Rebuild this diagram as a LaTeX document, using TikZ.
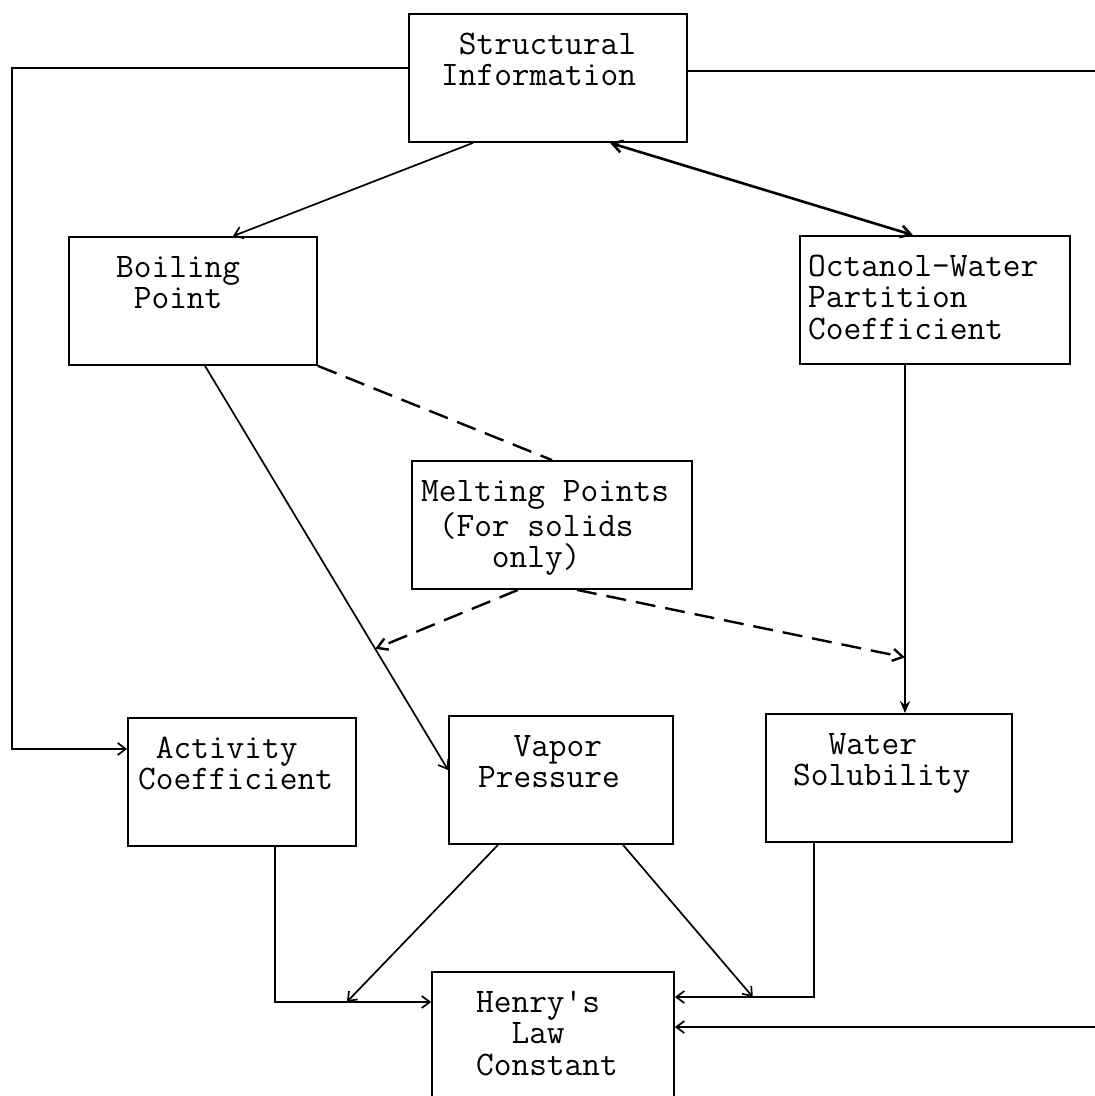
\documentclass[tikz,border=0pt]{standalone}
\usepackage{fontspec}
\newfontfamily\mono{Latin Modern Mono}
\usetikzlibrary{positioning,arrows.meta}
\tikzset{
  flowarrow/.style={-{Straight Barb[length=4pt,width=6pt]}, line width=0.85pt},
  boldarrow/.style={-{Stealth[length=6pt,width=5pt]}, line width=1.3pt},
  twoway/.style={{Straight Barb[length=5pt,width=6pt]}-{Straight Barb[length=5pt,width=6pt]}, line width=1.3pt},
  dashline/.style={line width=1.2pt, dash pattern=on 10pt off 5pt},
  dasharrow/.style={dashline, -{Straight Barb[length=5pt,width=6pt]}},
  propbox/.style={draw, line width=0.9pt, minimum height=64pt, inner sep=0pt},
  boxtext/.style={font=\mono\fontsize{17.2}{15.75}\selectfont, align=left, inner sep=0pt, outer sep=0pt}
}
\begin{document}
\begin{tikzpicture}[x=0.5pt, y=-0.5pt]
\fill[white] (0,0) rectangle (1095,1096);
\useasboundingbox (0,0) rectangle (1095,1096);
% boxes
\node[propbox, minimum width=139pt] (si) at (548,78) {};
\node[propbox, minimum width=124pt] (bp) at (193,301) {};
\node[propbox, minimum width=135pt] (kow) at (935,300) {};
\node[propbox, minimum width=140pt] (mp) at (552,525) {};
\node[propbox, minimum width=114pt] (ac) at (242,782) {};
\node[propbox, minimum width=112pt] (vp) at (561,780) {};
\node[propbox, minimum width=123pt] (ws) at (889,778) {};
\node[propbox, minimum width=121pt] (hlc) at (553,1036) {};
% texts
\node[boxtext, below right=9.5pt and 16.5pt of si.north west] (si-t) {\strut~Structural\\Information};
\node[boxtext, below right=9.5pt and 24pt of bp.north west] (bp-t) {\strut Boiling\\~Point};
\node[boxtext, below right=9.5pt and 4.5pt of kow.north west] (kow-t) {\strut Octanol-Water\\Partition\\Coefficient};
\node[boxtext, below right=9.5pt and 5pt of mp.north west] (mp-t) {\strut Melting Points\\~(For solids\\~~~~only)};
\node[boxtext, below right=9.5pt and 5.5pt of ac.north west] (ac-t) {\strut~Activity\\Coefficient};
\node[boxtext, below right=9.5pt and 15pt of vp.north west] (vp-t) {\strut~~Vapor\\Pressure};
\node[boxtext, below right=9.5pt and 14pt of ws.north west] (ws-t) {\strut~~Water\\Solubility};
\node[boxtext, below right=9.5pt and 22.5pt of hlc.north west] (hlc-t) {\strut Henry's\\~~Law\\Constant};
% outer loops
\coordinate (lx) at (12,0);
\coordinate (rx) at (1112,0);
\draw[flowarrow] ([yshift=5pt]si.west) -- ([yshift=5pt]si.west -| lx) |- ([yshift=16.5pt]ac.west);
\draw[flowarrow] ([yshift=3.5pt]si.east) -- ([yshift=3.5pt]si.east -| rx) |- ([yshift=4.5pt]hlc.east);
% upper part
\draw[flowarrow] ([xshift=-37.5pt]si.south) -- ([xshift=20pt]bp.north);
\draw[twoway] ([xshift=31pt]si.south) -- ([xshift=-11pt]kow.north);
\draw[boldarrow] ([xshift=-15pt]kow.south) -- coordinate[pos=0.84] (wsin) ([xshift=-15pt]kow.south |- ws.north);
\draw[flowarrow] ([xshift=6pt]bp.south) -- coordinate[pos=0.7] (vpin) ([yshift=5pt]vp.west);
\draw[dashline] (bp.south east) -- (mp.north);
\draw[dasharrow] ([xshift=-17pt]mp.south) -- (vpin);
\draw[dasharrow] ([xshift=12.5pt]mp.south) -- (wsin);
% lower part
\draw[flowarrow] ([xshift=16.5pt]ac.south) |- coordinate[pos=0.73] (aclin) ([yshift=17pt]hlc.west);
\draw[flowarrow] ([xshift=-37.5pt]ws.south) |- coordinate[pos=0.72] (wslin) ([yshift=19.5pt]hlc.east);
\draw[flowarrow] ([xshift=-31.5pt]vp.south) -- (aclin);
\draw[flowarrow] ([xshift=31pt]vp.south) -- (wslin);
\end{tikzpicture}
\end{document}
